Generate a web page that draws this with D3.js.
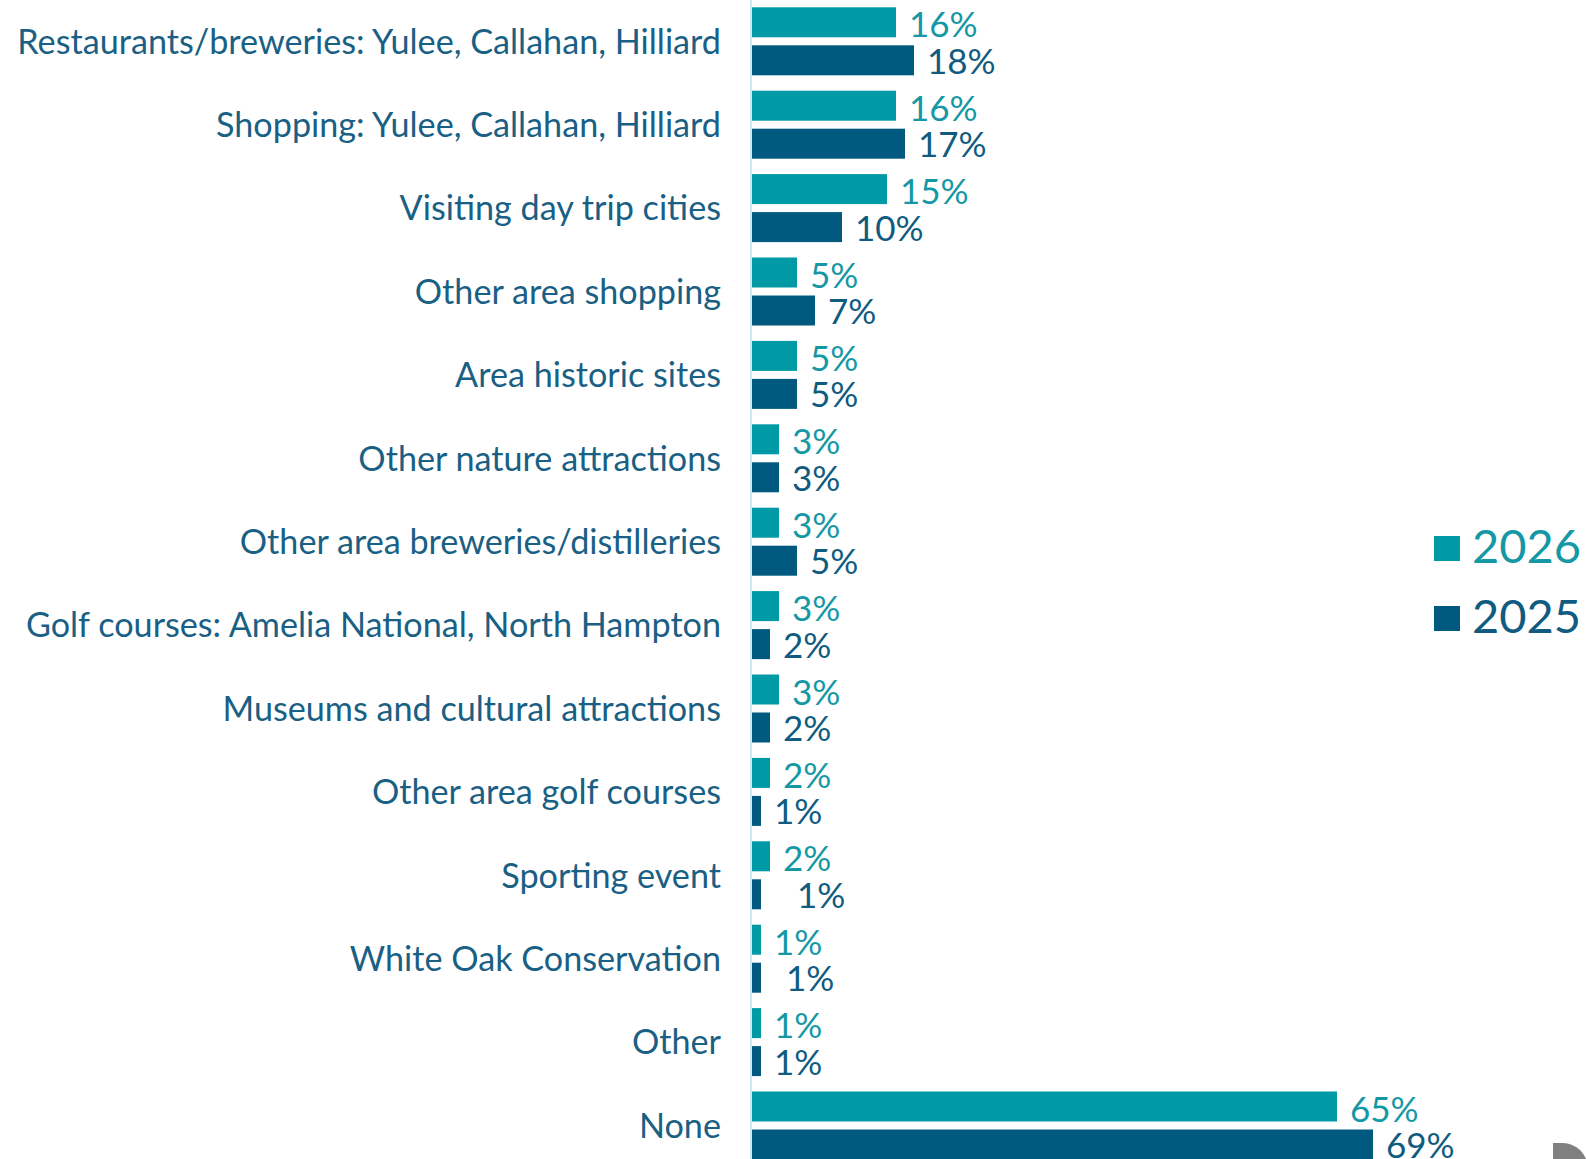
<!DOCTYPE html>
<html>
<head>
<meta charset="utf-8">
<script src="https://cdn.jsdelivr.net/npm/d3@7"></script>
<style>
  html, body { margin: 0; padding: 0; background: #ffffff; overflow: hidden; }
  svg { display: block; }
  text { font-family: "Lato", "Open Sans", sans-serif; }
</style>
</head>
<body>
<svg id="chart" width="1586" height="1159"></svg>
<script>
// ---- data ----
const categories = [
  "Restaurants/breweries: Yulee, Callahan, Hilliard",
  "Shopping: Yulee, Callahan, Hilliard",
  "Visiting day trip cities",
  "Other area shopping",
  "Area historic sites",
  "Other nature attractions",
  "Other area breweries/distilleries",
  "Golf courses: Amelia National, North Hampton",
  "Museums and cultural attractions",
  "Other area golf courses",
  "Sporting event",
  "White Oak Conservation",
  "Other",
  "None"
];
const seriesNames = ["2026", "2025"];
const values2026 = [16, 16, 15, 5, 5, 3, 3, 3, 3, 2, 2, 1, 1, 65];
const values2025 = [18, 17, 10, 7, 5, 3, 5, 2, 2, 1, 1, 1, 1, 69];

// ---- layout / style ----
const W = 1586, H = 1159;
const colors = { "2026": "#0099a6", "2025": "#005a80" };
const labelColors = { "2026": "#1598a5", "2025": "#105b80" };
const catColor = "#1a5f84";
const axisX = 751;
const pxPerPct = 9;
const groupStep = 83.4;
const firstTop = 7.3;
const groupBand = 68;
// small label shifts seen in the original rendering (series, category index -> px)
const labelShift = { "2025-10": 23, "2025-11": 12 };
const labelDy = { "2026": 15, "2025": 13.5 };

const svg = d3.select("#chart");

const x = d3.scaleLinear().domain([0, 100]).range([axisX + 1, axisX + 1 + 100 * pxPerPct]);

const pi = (groupStep - groupBand) / groupStep;
const r0 = firstTop - groupStep * pi / 2;
const y = d3.scaleBand()
  .domain(categories)
  .range([r0, r0 + groupStep * categories.length])
  .paddingInner(pi)
  .paddingOuter(pi / 2);

const yInner = d3.scaleBand()
  .domain(seriesNames)
  .range([0, y.bandwidth()])
  .paddingInner(8 / 38)
  .paddingOuter(0);

const rows = categories.map((c, i) => ({ cat: c, i, "2026": values2026[i], "2025": values2025[i] }));

// axis line (left)
svg.append("line")
  .attr("x1", axisX).attr("x2", axisX)
  .attr("y1", 0).attr("y2", H)
  .attr("stroke", "#c8e9f6").attr("stroke-width", 2);

// category labels
const catG = svg.append("g");
const catLabels = catG.selectAll("text").data(rows).join("text")
  .attr("x", 721)
  .attr("y", d => y(d.cat) + y.bandwidth() / 2 + 11)
  .attr("text-anchor", "end")
  .attr("fill", catColor)
  .style("font-size", "30px")
  .text(d => d.cat);

// fit font size so the longest label matches the original width (~704px)
let maxW = 0;
catLabels.each(function () { maxW = Math.max(maxW, this.getComputedTextLength()); });
const catFont = 30 * 704 / maxW;
catLabels.style("font-size", catFont.toFixed(2) + "px")
  .attr("y", d => y(d.cat) + y.bandwidth() / 2 + catFont * 0.36);

// bars
const groups = svg.append("g").selectAll("g").data(rows).join("g")
  .attr("transform", d => `translate(0,${y(d.cat)})`);

groups.selectAll("rect").data(d => seriesNames.map(s => ({ s, v: d[s], i: d.i }))).join("rect")
  .attr("x", x(0))
  .attr("y", d => yInner(d.s))
  .attr("width", d => x(d.v) - x(0))
  .attr("height", yInner.bandwidth())
  .attr("fill", d => colors[d.s]);

groups.selectAll("text").data(d => seriesNames.map(s => ({ s, v: d[s], i: d.i }))).join("text")
  .attr("x", d => x(d.v) + 13 + (labelShift[d.s + "-" + d.i] || 0))
  .attr("y", d => yInner(d.s) + yInner.bandwidth() / 2 + labelDy[d.s])
  .attr("fill", d => labelColors[d.s])
  .style("font-size", "35px")
  .text(d => d.v + "%");

// legend
const legend = svg.append("g").attr("transform", "translate(1434,536)");
const li = legend.selectAll("g").data(seriesNames).join("g")
  .attr("transform", (d, i) => `translate(0,${i * 70})`);
li.append("rect").attr("width", 26).attr("height", 25).attr("fill", d => colors[d]);
li.append("text")
  .attr("x", 38).attr("y", 27)
  .attr("fill", d => labelColors[d])
  .style("font-size", "47px")
  .text(d => d);

// grey fragment at bottom-right corner
svg.append("path")
  .attr("d", "M1553,1159 V1143 H1562 A26,26 0 0 1 1586,1159 Z")
  .attr("fill", "#808080");
</script>
</body>
</html>
